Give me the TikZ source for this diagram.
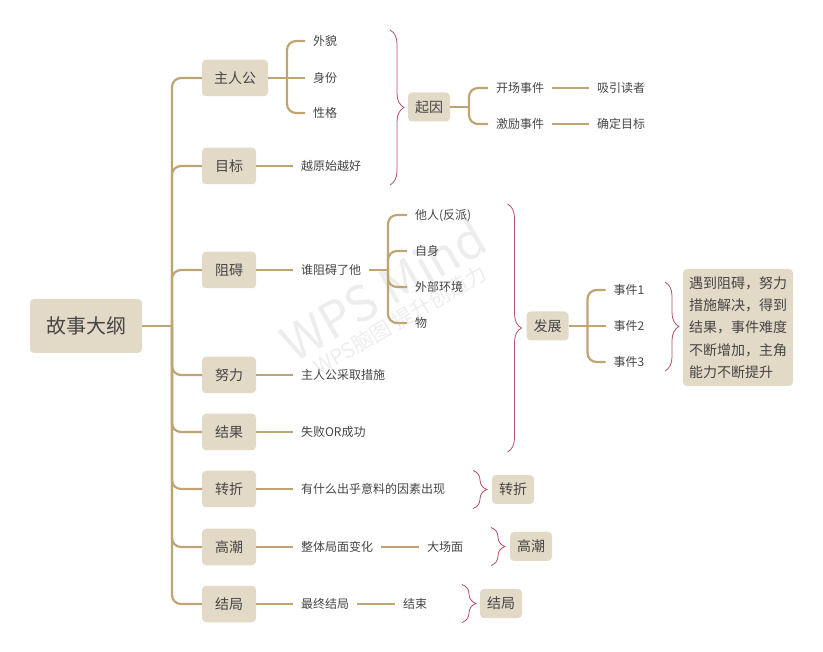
\documentclass[tikz,border=0pt]{standalone}
\usepackage{fontspec}
\setmainfont{Noto Sans CJK SC}
\usepackage{xcolor}
\usepackage{tikz}
\usetikzlibrary{positioning,decorations.pathreplacing}
\definecolor{boxfill}{HTML}{E3D9C7}
\definecolor{linkline}{HTML}{BFA574}
\definecolor{bracered}{HTML}{B0506A}
\definecolor{inktext}{HTML}{454545}
\tikzset{
  rootbox/.style={fill=boxfill, rounded corners=4pt, text=inktext, font=\fontsize{20}{24}\selectfont, minimum width=112pt, minimum height=54pt, inner sep=0pt, outer sep=0pt},
  topic/.style={fill=boxfill, rounded corners=4pt, text=inktext, font=\fontsize{14}{17}\selectfont, minimum height=36.5pt, inner xsep=13pt, inner ysep=0pt, outer sep=0pt},
  tagbox/.style={fill=boxfill, rounded corners=4pt, text=inktext, font=\fontsize{14}{17}\selectfont, minimum height=29pt, inner xsep=7pt, inner ysep=0pt, outer sep=0pt},
  notebox/.style={fill=boxfill, rounded corners=4pt, text=inktext, font=\fontsize{14}{22.3}\selectfont, align=left, text width=98pt, minimum height=117pt, inner xsep=6pt, inner ysep=0pt, outer sep=0pt},
  leaf/.style={text=inktext, font=\fontsize{12}{14}\selectfont, text height=10.6pt, text depth=1.4pt, inner xsep=8pt, inner ysep=2pt, outer sep=0pt},
  link/.style={draw=linkline, line width=2.2pt, rounded corners=9pt},
  bracket/.style={draw=bracered, line width=0.8pt, decorate, decoration={brace, amplitude=14pt}},
  mark text/.style={text=gray!14, rotate=30, inner sep=0pt}
}
\begin{document}
\begin{tikzpicture}[x=1pt, y=1pt]
    \useasboundingbox (0,0) rectangle (823,-652);

    % Watermark
    \node[mark text, font=\fontsize{49}{56}\selectfont] (markA) at (383,-290) {WPS Mind};
    \node[mark text, font=\fontsize{21}{25}\selectfont] (markB) at (400,-320) {WPS脑图 提升创造力};

    % Root and main topics
    \node[rootbox] (root) at (86,-326) {故事大纲};
    \coordinate[right=30pt of root] (trunk);
    \node[topic, inner xsep=12pt] (zhujue) [right=60pt of root, yshift=248pt] {主人公};
    \node[topic] (mubiao) [right=60pt of root, yshift=160pt] {目标};
    \node[topic] (zuai) [right=60pt of root, yshift=56pt] {阻碍};
    \node[topic] (nuli) [right=60pt of root, yshift=-49pt] {努力};
    \node[topic] (jieguo) [right=60pt of root, yshift=-106pt] {结果};
    \node[topic] (zhuanzhe) [right=60pt of root, yshift=-163pt] {转折};
    \node[topic] (gaochao) [right=60pt of root, yshift=-221pt] {高潮};
    \node[topic] (jieju) [right=60pt of root, yshift=-278pt] {结局};

    % Protagonist branch
    \coordinate[right=19pt of zhujue] (zhujueFork);
    \node[leaf] (waimao) [right=18pt of zhujueFork, yshift=37pt] {外貌};
    \node[leaf] (shenfen) [right=18pt of zhujueFork] {身份};
    \node[leaf] (xingge) [right=18pt of zhujueFork, yshift=-35pt] {性格};
    \node[leaf] (yuanshi) [right=37pt of mubiao] {越原始越好};

    % Obstacle branch
    \node[leaf] (shei) [right=37pt of zuai] {谁阻碍了他};
    \coordinate[right=19pt of shei] (sheiFork);
    \node[leaf] (taren) [right=19pt of sheiFork, yshift=55pt] {他人(反派)};
    \node[leaf] (zishen) [right=19pt of sheiFork, yshift=19pt] {自身};
    \node[leaf] (huanjing) [right=19pt of sheiFork, yshift=-17pt] {外部环境};
    \node[leaf] (wu) [right=19pt of sheiFork, yshift=-53pt] {物};

    % Single leaves
    \node[leaf] (cuoshi) [right=37pt of nuli] {主人公采取措施};
    \node[leaf] (chenggong) [right=37pt of jieguo] {失败OR成功};
    \node[leaf] (yinsu) [right=37pt of zhuanzhe] {有什么出乎意料的因素出现};
    \node[leaf] (jumian) [right=37pt of gaochao] {整体局面变化};
    \node[leaf] (dachang) [right=38pt of jumian] {大场面};
    \node[leaf] (zuizhong) [right=37pt of jieju] {最终结局};
    \node[leaf] (jieshu) [right=38pt of zuizhong] {结束};

    % Beginning
    \node[tagbox] (qiyin) at (429,-107) {起因};
    \coordinate[right=19pt of qiyin] (qiyinFork);
    \node[leaf] (kaichang) [right=19pt of qiyinFork, yshift=19pt] {开场事件};
    \node[leaf] (jili) [right=19pt of qiyinFork, yshift=-17pt] {激励事件};
    \node[leaf] (duzhe) [right=37pt of kaichang] {吸引读者};
    \node[leaf] (queding) [right=37pt of jili] {确定目标};

    % Development
    \node[tagbox] (fazhan) at (547.5,-326) {发展};
    \coordinate[right=19pt of fazhan] (fazhanFork);
    \node[leaf] (shijianA) [right=18pt of fazhanFork, yshift=36pt] {事件1};
    \node[leaf] (shijianB) [right=18pt of fazhanFork] {事件2};
    \node[leaf] (shijianC) [right=18pt of fazhanFork, yshift=-36pt] {事件3};
    \node[notebox] (note) at (738,-327.5) {遇到阻碍，努力\\措施解决，得到\\结果，事件难度\\不断增加，主角\\能力不断提升};

    % Tags on the right
    \node[tagbox] (zhuanzheTag) at (513,-489.5) {转折};
    \node[tagbox] (gaochaoTag) at (531,-546.5) {高潮};
    \node[tagbox] (jiejuTag) at (501,-603.5) {结局};

    % Straight links
    \path[link]
    (root.east) edge (trunk)
    (zhujue.east) edge (shenfen.west)
    (mubiao.east) edge (yuanshi.west)
    (zuai.east) edge (shei.west)
    (shei.east) edge (sheiFork)
    (nuli.east) edge (cuoshi.west)
    (jieguo.east) edge (chenggong.west)
    (zhuanzhe.east) edge (yinsu.west)
    (gaochao.east) edge (jumian.west)
    (jumian.east) edge (dachang.west)
    (jieju.east) edge (zuizhong.west)
    (zuizhong.east) edge (jieshu.west)
    (qiyin.east) edge (qiyinFork)
    (kaichang.east) edge (duzhe.west)
    (jili.east) edge (queding.west)
    (fazhan.east) edge (shijianB.west);

    % Elbow links
    \draw[link] (trunk) |- (zhujue.west);
    \draw[link] (trunk) |- (mubiao.west);
    \draw[link] (trunk) |- (zuai.west);
    \draw[link] (trunk) |- (nuli.west);
    \draw[link] (trunk) |- (jieguo.west);
    \draw[link] (trunk) |- (zhuanzhe.west);
    \draw[link] (trunk) |- (gaochao.west);
    \draw[link] (trunk) |- (jieju.west);
    \draw[link] (zhujueFork) |- (waimao.west);
    \draw[link] (zhujueFork) |- (xingge.west);
    \draw[link] (sheiFork) |- (taren.west);
    \draw[link] (sheiFork) |- (zishen.west);
    \draw[link] (sheiFork) |- (huanjing.west);
    \draw[link] (sheiFork) |- (wu.west);
    \draw[link] (qiyinFork) |- (kaichang.west);
    \draw[link] (qiyinFork) |- (jili.west);
    \draw[link] (fazhanFork) |- (shijianA.west);
    \draw[link] (fazhanFork) |- (shijianC.west);

    % Braces
    \coordinate[left=18pt of qiyin, yshift=77pt] (qiyinTop);
    \coordinate[left=18pt of qiyin, yshift=-78pt] (qiyinEnd);
    \coordinate[left=19pt of fazhan, yshift=122pt] (fazhanTop);
    \coordinate[left=19pt of fazhan, yshift=-126pt] (fazhanEnd);
    \coordinate[left=18pt of note, yshift=45.5pt] (noteTop);
    \coordinate[left=18pt of note, yshift=-43.5pt] (noteEnd);
    \coordinate[left=19pt of zhuanzheTag, yshift=19pt] (zhuanzheTop);
    \coordinate[left=19pt of zhuanzheTag, yshift=-19pt] (zhuanzheEnd);
    \coordinate[left=19pt of gaochaoTag, yshift=19pt] (gaochaoTop);
    \coordinate[left=19pt of gaochaoTag, yshift=-19pt] (gaochaoEnd);
    \coordinate[left=18pt of jiejuTag, yshift=19pt] (jiejuTop);
    \coordinate[left=18pt of jiejuTag, yshift=-19pt] (jiejuEnd);
    \draw[bracket] (qiyinTop) -- (qiyinEnd);
    \draw[bracket] (fazhanTop) -- (fazhanEnd);
    \draw[bracket] (noteTop) -- (noteEnd);
    \draw[bracket] (zhuanzheTop) -- (zhuanzheEnd);
    \draw[bracket] (gaochaoTop) -- (gaochaoEnd);
    \draw[bracket] (jiejuTop) -- (jiejuEnd);

\end{tikzpicture}
\end{document}
